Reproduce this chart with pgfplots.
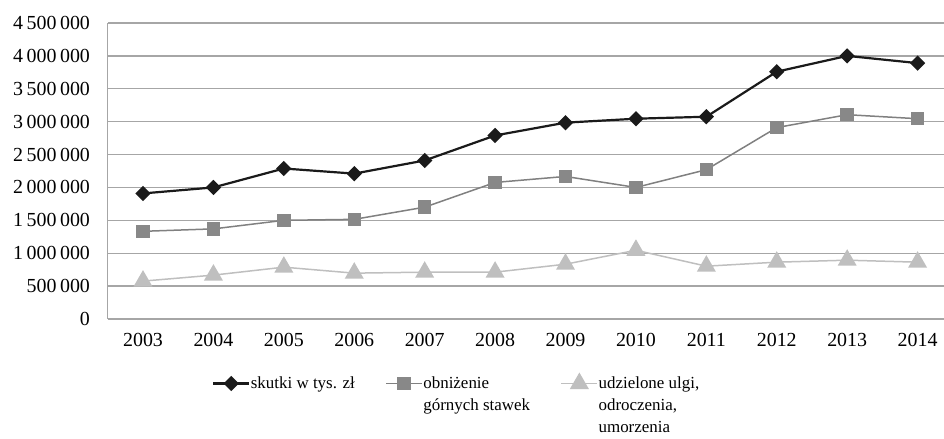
\documentclass[border=0pt]{standalone}
\usepackage{fontspec}
\setmainfont{Liberation Serif}
\usepackage{pgfplots}
\usepackage{pgfplotstable}
\pgfplotsset{compat=1.18}
\definecolor{cblack}{HTML}{1A1A1A}
\definecolor{cgrey}{HTML}{808080}
\definecolor{cgreyfill}{HTML}{888888}
\definecolor{clight}{HTML}{BFBFBF}
\definecolor{cgrid}{HTML}{A6A6A6}
\pgfplotstableread{
x skutki obnizenie ulgi
0 1909000 1333000 576000
1 2000000 1370000 667000
2 2288000 1500000 788000
3 2210000 1515000 697000
4 2410000 1700000 712000
5 2790000 2076000 712000
6 2985000 2167000 833000
7 3045000 2000000 1045000
8 3075000 2270000 803000
9 3760000 2910000 864000
10 4000000 3106000 894000
11 3890000 3045000 864000
}\data
\newcommand{\ml}[1]{\begin{tabular}[t]{@{}l@{}}#1\end{tabular}}
\begin{document}
\fontsize{17}{22}\selectfont
\begin{tikzpicture}
\useasboundingbox (0,0) rectangle (944bp,439bp);
\begin{axis}[
  at={(107.8bp,120bp)}, anchor=south west,
  scale only axis, width=836.2bp, height=296bp,
  xmin=-0.5, xmax=11.375, ymin=0, ymax=4500000,
  xtick={0,...,11},
  xticklabels={2003,2004,2005,2006,2007,2008,2009,2010,2011,2012,2013,2014},
  ytick={0,500000,1000000,1500000,2000000,2500000,3000000,3500000,4000000,4500000},
  scaled y ticks=false,
  tick label style={font=\fontsize{20}{24}\selectfont},
  yticklabel style={/tikz/xshift=-12bp, /pgf/number format/.cd, fixed, 1000 sep={\hspace{0.18em}}, assume math mode=true},
  xticklabel style={yshift=-8bp},
  major tick length=0pt,
  ymajorgrids, grid style={cgrid, line width=1.3bp},
  axis lines*=left,
  axis line style={cgrid, line width=1.3bp},
  clip=false,
  legend columns=3,
  legend style={draw=none, at={(0.1246,-0.18)}, anchor=north west,
    inner sep=0pt,
    font=\fontsize{17}{22}\selectfont,
    cells={anchor=base west},
    nodes={inner xsep=0.5bp, inner ysep=1bp},
    /tikz/every even column/.append style={column sep=30bp}},
  legend image code/.code={\draw[mark repeat=2,mark phase=2,yshift=5.3bp,#1] plot coordinates {(0bp,0bp)(18bp,0bp)(36bp,0bp)};},
]
\addplot[cblack, line width=2.2bp, mark=square*, mark size=4.3bp,
  mark options={solid, fill=cblack, draw=cblack, rotate=45}] table[x=x, y=skutki] {\data};
\addlegendentry{skutki w tys. zł}
\addplot[cgrey, line width=1.5bp, mark=square*, mark size=6bp,
  mark options={solid, fill=cgreyfill, draw=cgreyfill}] table[x=x, y=obnizenie] {\data};
\addlegendentry{\ml{obniżenie\\górnych stawek}}
\addplot[clight, line width=1.5bp, mark=triangle*, mark size=9.5bp,
  mark options={solid, fill=clight, draw=clight}] table[x=x, y=ulgi] {\data};
\addlegendentry{\ml{udzielone ulgi,\\odroczenia,\\umorzenia}}
\end{axis}
\end{tikzpicture}
\end{document}
